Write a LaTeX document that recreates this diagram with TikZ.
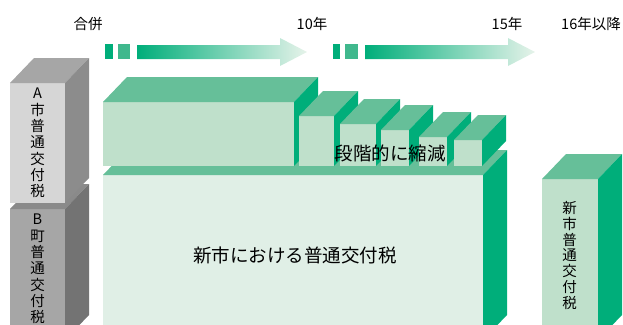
\documentclass[tikz,border=0pt]{standalone}
\usepackage{fontspec}
\setmainfont{Noto Sans CJK JP}
\definecolor{frontG}{HTML}{BFE0CB}
\definecolor{topG}{HTML}{66BF99}
\definecolor{sideG}{HTML}{00AE7A}
\definecolor{baseF}{HTML}{E0EFE6}
\definecolor{aFront}{HTML}{D6D6D6}
\definecolor{aTop}{HTML}{A6A6A6}
\definecolor{aSide}{HTML}{8C8C8C}
\definecolor{bFront}{HTML}{A6A6A6}
\definecolor{bTop}{HTML}{8A8A8A}
\definecolor{bSide}{HTML}{737373}
\definecolor{sqA}{HTML}{00AE7A}
\definecolor{sqB}{HTML}{40B88D}
\definecolor{arrEnd}{HTML}{E6F3EA}
\tikzset{
  lbl/.style={inner sep=0pt, font=\fontsize{14.5}{16}\selectfont},
  bigtext/.style={inner sep=0pt, font=\fontsize{18.5}{20}\selectfont},
  vch/.style={inner sep=0pt, font=\fontsize{14.5}{16}\selectfont},
  arrowshade/.style={left color=sqA, right color=arrEnd, draw=none},
}
\newcommand\drawcube[7]{%
  \fill[#5] (#1,#2) rectangle (#3,#4);
  \fill[#6] (#1,#2) -- (#1+24,#2-25) -- (#3+24,#2-25) -- (#3,#2) -- cycle;
  \fill[#7] (#3,#2) -- (#3+24,#2-25) -- (#3+24,#4-25) -- (#3,#4) -- cycle;
}
\begin{document}
\begin{tikzpicture}[x=1pt,y=-1pt]
\useasboundingbox (0,0) rectangle (623,324);
\clip (0,0) rectangle (623,324);
% timeline labels
\node[lbl] (gappei) at (88,24) {合併};
\node[lbl] (y10) at (312,24) {10年};
\node[lbl] (y15) at (507,24) {15年};
\node[lbl] (y16) at (591,24) {16年以降};
% arrow 1
\fill[sqA] (105,44) rectangle (113,59);
\fill[sqB] (118,44) rectangle (130,59);
\shade[arrowshade] (137,45) -- (280,45) -- (280,38) -- (307,52) -- (280,66) -- (280,59) -- (137,59) -- cycle;
% arrow 2
\fill[sqA] (333,44) rectangle (340,59);
\fill[sqB] (345,44) rectangle (358,59);
\shade[arrowshade] (365,45) -- (508,45) -- (508,38) -- (535,52) -- (508,66) -- (508,59) -- (365,59) -- cycle;
% left gray boxes
\drawcube{10}{209}{65}{340}{bFront}{bTop}{bSide}
\drawcube{10}{83}{65}{203}{aFront}{aTop}{aSide}
\node[vch] (aletter) at (37.5,93) {A};
\foreach \c [count=\i] in {市,普,通,交,付,税}
  \node[vch] (a\i) at (37.5,{110+16.2*(\i-1)}) {\c};
\node[vch] (bletter) at (37.5,219) {B};
\foreach \c [count=\i] in {町,普,通,交,付,税}
  \node[vch] (b\i) at (37.5,{236+16.2*(\i-1)}) {\c};
% base
\drawcube{103}{175}{483}{340}{baseF}{topG}{sideG}
% stepped boxes
\drawcube{103}{102}{294}{166}{frontG}{topG}{sideG}
\drawcube{299}{116}{334}{166}{frontG}{topG}{sideG}
\drawcube{340}{124}{376}{166}{frontG}{topG}{sideG}
\drawcube{381}{130}{409}{166}{frontG}{topG}{sideG}
\drawcube{419}{137}{447}{166}{frontG}{topG}{sideG}
\drawcube{454}{140}{482}{166}{frontG}{topG}{sideG}
\node[bigtext] (shukugen) at (390,153) {段階的に縮減};
\node[bigtext] (shinshi) at (295,255) {新市における普通交付税};
% right box
\drawcube{542}{179}{598}{340}{frontG}{topG}{sideG}
\foreach \c [count=\i] in {新,市,普,通,交,付,税}
  \node[vch] (r\i) at (569.5,{208+15.83*(\i-1)}) {\c};
\end{tikzpicture}
\end{document}
